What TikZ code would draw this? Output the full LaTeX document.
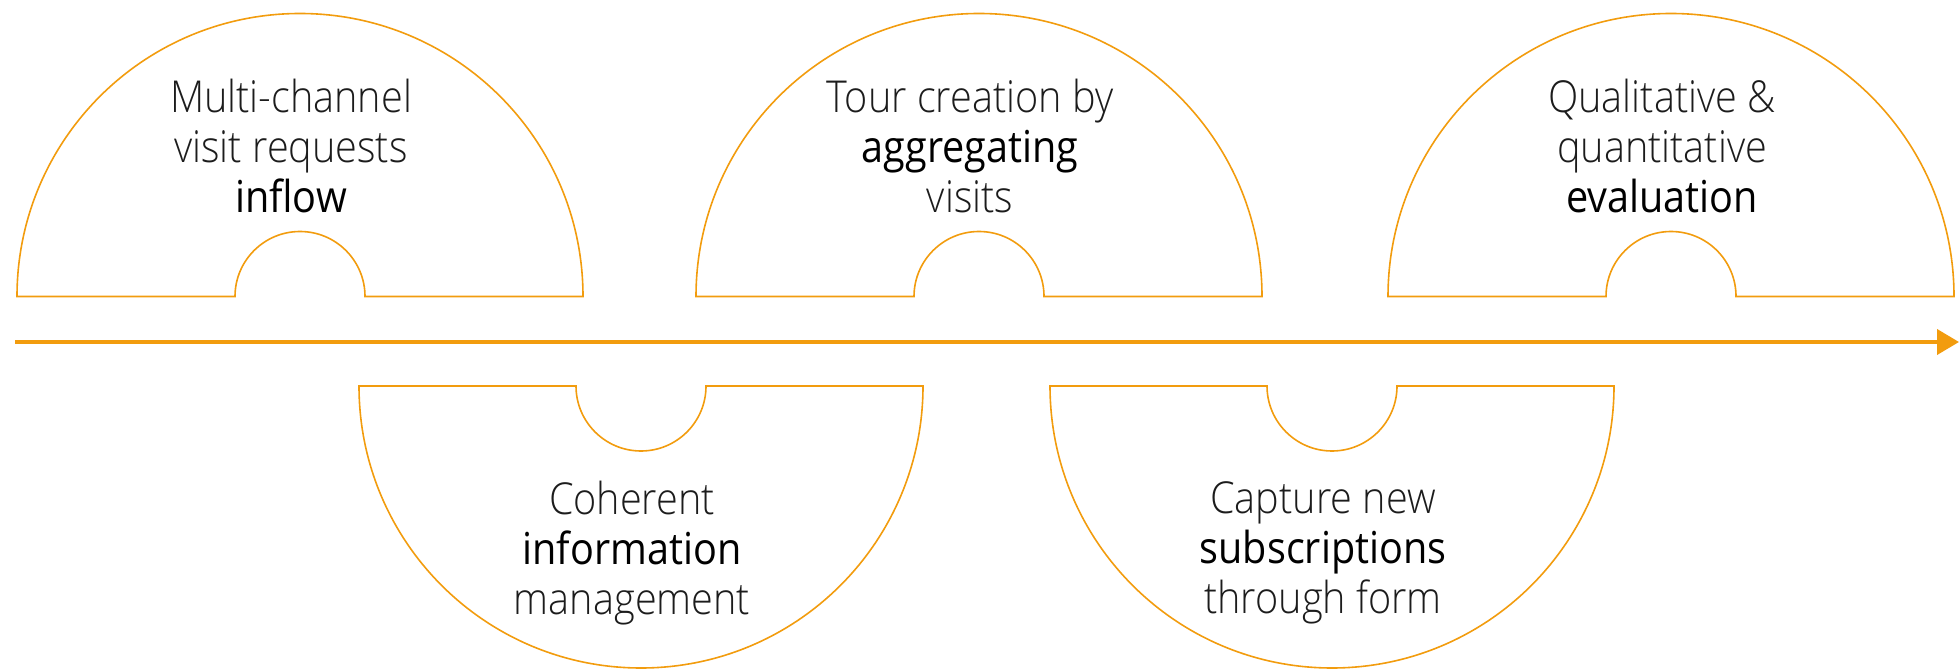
\documentclass[tikz,border=0pt]{standalone}
\usepackage{fontspec}
\setmainfont{Open Sans}[UprightFont=* Light, BoldFont=*, FakeStretch=0.9]
\usetikzlibrary{arrows.meta}
\definecolor{stageorange}{RGB}{242,156,14}
\definecolor{stagetext}{RGB}{28,28,28}
\newcommand{\keyword}[1]{{\bfseries\color{black}#1}}
\tikzset{
  stage/.style={draw=stageorange, line width=1.6pt},
  stagelabel/.style={align=center, text=stagetext, inner sep=0pt,
    font=\fontsize{44}{50}\selectfont},
  timeline/.style={draw=stageorange, line width=4pt,
    -{Triangle[length=22pt, width=25pt]}}
}

\begin{document}
\begin{tikzpicture}[x=1pt, y=1pt]
\useasboundingbox (0,0) rectangle (1959,670);
% stages above the line
\foreach \cx in {300,979,1671}
  \draw [stage] (\cx-283,373.5) arc [start angle=180, end angle=0, radius=283]
    -- (\cx+65,373.5) arc [start angle=0, end angle=180, radius=65] -- cycle;
% stages below the line
\foreach \cx in {641,1332}
  \draw [stage] (\cx-282,284) arc [start angle=180, end angle=360, radius=282]
    -- (\cx+65,284) arc [start angle=0, end angle=-180, radius=65] -- cycle;
% time line
\coordinate (start) at (15,328);
\coordinate (end) at (1959,328);
\draw [timeline] (start) -- (end);
% labels
\node [stagelabel] (inflow) at (291,524) {Multi-channel\\visit requests\\\keyword{inflow}};
\node [stagelabel] (aggregating) at (970,524) {Tour creation by\\\keyword{aggregating}\\visits};
\node [stagelabel] (evaluation) at (1662,524) {Qualitative \&\\quantitative\\\keyword{evaluation}};
\node [stagelabel] (information) at (632,117) {Coherent\\\keyword{information}\\management};
\node [stagelabel] (subscriptions) at (1323,117) {Capture new\\\keyword{subscriptions}\\through form};
\end{tikzpicture}
\end{document}
